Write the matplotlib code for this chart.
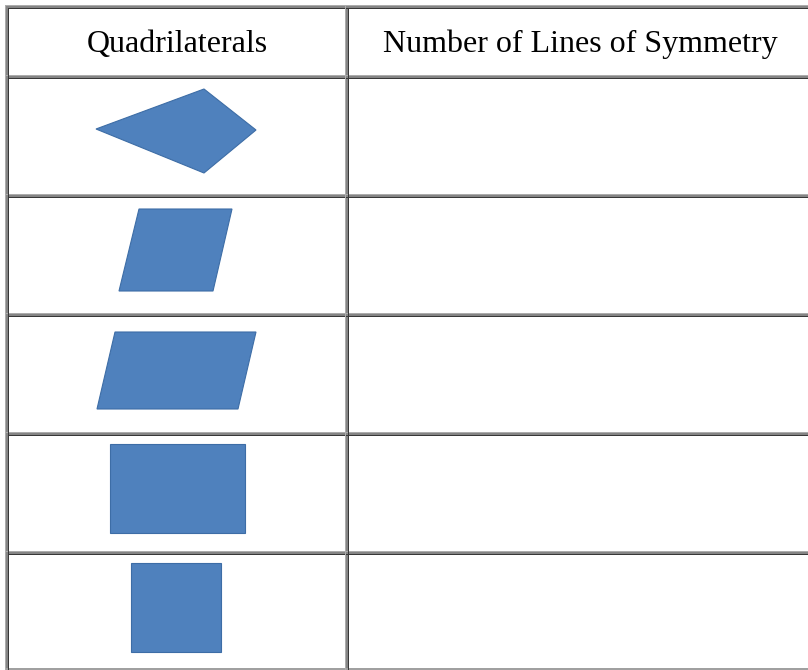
import matplotlib
matplotlib.use("Agg")
import matplotlib.pyplot as plt
from matplotlib.patches import Polygon, Rectangle

W, H = 808, 670
headers = ["Quadrilaterals", "Number of Lines of Symmetry"]
header_x = [177, 580]
header_baseline = 52

# table grid (pixel coordinates)
col_edges = [5, 345]          # left border, column divider
row_edges = [5, 75, 194, 313, 432, 551]  # top border, row separators
bottom_line = 668

# quadrilateral shapes (vertex lists)
kite = [(96, 129), (204, 89), (256, 130), (204, 173)]
rhombus = [(139, 209), (232, 209), (213, 291), (119, 291)]
parallelogram = [(115, 332), (256, 332), (238, 409), (97, 409)]
rectangle = [(110, 444), (245, 444), (245, 533), (110, 533)]
square = [(131, 563), (221, 563), (221, 652), (131, 652)]
shapes = [kite, rhombus, parallelogram, rectangle, square]

fig = plt.figure(figsize=(W / 100, H / 100), dpi=100)
ax = fig.add_axes([0, 0, 1, 1])
ax.set_xlim(0, W)
ax.set_ylim(H, 0)
ax.axis("off")

band = "#858585"
dark = "#383838"
light = "#acacac"

# horizontal lines
for y in row_edges:
    x0 = col_edges[0]
    ax.add_patch(Rectangle((x0, y), W - x0, 4, facecolor=band, edgecolor="none", zorder=2))
    ax.add_patch(Rectangle((x0, y), W - x0, 1, facecolor=light, edgecolor="none", zorder=3))
    ax.add_patch(Rectangle((x0 + 3, y + 2.6), W - x0, 1.4, facecolor=dark, edgecolor="none", zorder=3))

# vertical lines
for x in col_edges:
    ax.add_patch(Rectangle((x, row_edges[0]), 4, H - row_edges[0], facecolor=band, edgecolor="none", zorder=2))
    ax.add_patch(Rectangle((x, row_edges[0]), 1, H - row_edges[0], facecolor=light, edgecolor="none", zorder=3))
    ax.add_patch(Rectangle((x + 2.6, row_edges[0] + 3), 1.4, H - row_edges[0], facecolor=dark, edgecolor="none", zorder=3))

# bottom thin line
ax.add_patch(Rectangle((col_edges[0], bottom_line), W, 2, facecolor="#a0a0a0", edgecolor="none", zorder=2))

for txt, x in zip(headers, header_x):
    ax.text(x, header_baseline, txt, ha="center", va="baseline", fontsize=23,
            family="Liberation Serif", color="black", zorder=4)

for verts in shapes:
    ax.add_patch(Polygon(verts, closed=True, facecolor="#4f81bd", edgecolor="#3d6da6",
                         linewidth=0.8, zorder=4))

fig.savefig("out.png", dpi=100)
